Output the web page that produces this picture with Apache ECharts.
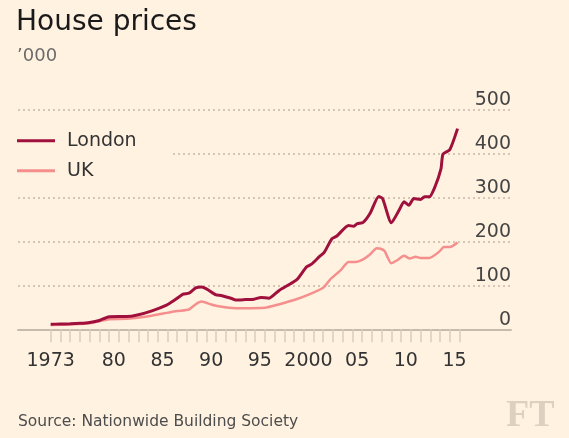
<!DOCTYPE html>
<html>
<head>
<meta charset="utf-8">
<script src="https://cdn.jsdelivr.net/npm/echarts@6/dist/echarts.min.js"></script>
<style>
  html, body { margin: 0; padding: 0; background: #fff2e1; }
  #chart { width: 569px; height: 438px; }
</style>
</head>
<body>
<div id="chart"></div>
<script>
// ---- Data (thousands of pounds) ----
const londonYears = [1973.0, 1974.0, 1975.0, 1976.0, 1977.0, 1978.0, 1978.9, 1980.0, 1980.8, 1981.9,
  1983.4, 1984.9, 1985.7, 1986.6, 1987.2, 1987.9, 1988.5, 1989.0, 1990.0, 1990.5,
  1991.6, 1992.0, 1993.0, 1993.9, 1994.6, 1995.4, 1996.5, 1997.6, 1998.3, 1999.3,
  1999.8, 2000.6, 2001.1, 2001.9, 2002.4, 2003.6, 2004.1, 2004.5, 2005.1, 2005.8,
  2006.7, 2007.1, 2008.0, 2008.8, 2009.3, 2009.8, 2010.3, 2011.0, 2011.4, 2011.9,
  2012.5, 2013.1, 2013.3, 2014.0, 2014.8];
const londonValues = [11.5, 12, 12.5, 13.5, 15.5, 20, 28, 29, 29, 32.5,
  42, 55, 66, 80, 82, 94, 96, 92, 78, 77,
  70, 66.5, 67.5, 68.5, 72.5, 70.5, 89, 103, 113, 142,
  148, 165, 175, 206, 212, 236, 234, 240, 243, 263,
  302, 297, 242, 271, 290, 282, 297, 295, 301, 301,
  325, 365, 398, 408, 456];

const ukYears = [1973.0, 1975.0, 1977.0, 1979.0, 1980.8, 1982.7, 1984.6, 1986.0, 1987.2, 1987.9,
  1988.5, 1989.4, 1990.1, 1992.0, 1995.0, 1996.5, 1998.0, 1999.5, 2001.0, 2001.7,
  2002.8, 2003.6, 2004.3, 2005.1, 2005.8, 2006.5, 2006.9, 2007.3, 2008.0, 2008.6,
  2009.3, 2009.9, 2010.5, 2011.0, 2011.9, 2012.9, 2013.4, 2014.0, 2014.8];
const ukValues = [9.5, 11, 13.6, 23, 24, 28.5, 36, 41.5, 45, 57,
  63, 57, 53, 48, 49, 57, 66.5, 79, 94.5, 113,
  134.6, 153, 153, 159, 170, 184, 183, 178, 150, 157,
  167, 161, 165, 162, 162, 176, 187, 187, 197];

const tickYears = [];
for (let y = 1973; y <= 2015; y++) tickYears.push(y);
const labelYears = [1973, 1980, 1985, 1990, 1995, 2000, 2005, 2010, 2015];
const yTicks = [0, 100, 200, 300, 400, 500];

const FONT = '"DejaVu Sans", sans-serif';
const BG = '#fff2e1';

function zip(xs, ys) { return xs.map((x, i) => [x, ys[i]]); }

const chart = echarts.init(document.getElementById('chart'), null, { renderer: 'canvas' });
chart.setOption({
  backgroundColor: BG,
  animation: false,
  grid: { left: 18, right: 58, top: 109.3, bottom: 108.7 },
  legend: {
    orient: 'vertical',
    left: 17,
    top: 130.7,
    padding: [0, 34, 0, 0],
    itemWidth: 38,
    itemHeight: 3,
    itemGap: 10,
    icon: 'rect',
    backgroundColor: BG,
    textStyle: { fontFamily: FONT, fontSize: 19, lineHeight: 20, color: '#333333', padding: [0, 0, 0, 7] },
    data: ['London', 'UK']
  },
  xAxis: {
    type: 'value',
    min: 1969.64,
    max: 2020.29,
    splitLine: { show: false },
    axisLine: { show: true, onZero: false, lineStyle: { color: '#c4bdae', width: 2 } },
    axisTick: { show: true, customValues: tickYears, length: 13, lineStyle: { color: '#d9cdbf', width: 1.5 } },
    axisLabel: {
      customValues: labelYears,
      margin: 22,
      fontFamily: FONT,
      fontSize: 19,
      color: '#333333',
      formatter: function (v) {
        if (v === 1973) return '{a|1973}';
        if (v === 2000) return '{b|2000}';
        return '{b|' + String(v % 100).padStart(2, '0') + '}';
      },
      rich: {
        a: { fontFamily: FONT, fontSize: 19, color: '#333333' },
        b: { fontFamily: FONT, fontSize: 19, color: '#333333', padding: [0, 10, 0, 0] }
      }
    }
  },
  yAxis: {
    type: 'value',
    position: 'right',
    min: yTicks[0],
    max: yTicks[yTicks.length - 1],
    interval: 100,
    axisLine: { show: false },
    axisTick: { show: false },
    splitLine: { show: true, lineStyle: { color: '#c9b8a6', width: 1.5, type: [2, 3] } },
    axisLabel: {
      inside: true,
      margin: 0,
      align: 'right',
      verticalAlign: 'bottom',
      fontFamily: FONT,
      fontSize: 19,
      color: '#444444'
    }
  },
  series: [
    {
      name: 'London',
      type: 'line',
      data: zip(londonYears, londonValues),
      showSymbol: false,
      smooth: 0.2,
      color: '#a0103d',
      lineStyle: { color: '#a0103d', width: 3 },
      z: 3
    },
    {
      name: 'UK',
      type: 'line',
      data: zip(ukYears, ukValues),
      showSymbol: false,
      smooth: 0.2,
      color: '#f58f8d',
      lineStyle: { color: '#f58f8d', width: 2.5 },
      z: 2
    }
  ],
  graphic: [
    { type: 'text', style: { text: 'House prices', x: 16, y: 23, font: '28px ' + FONT, fill: '#1a1a1a', verticalAlign: 'middle' } },
    { type: 'text', style: { text: '\u2019000', x: 17, y: 56.5, font: '18px ' + FONT, fill: '#6b6b6b', verticalAlign: 'middle' } },
    { type: 'text', style: { text: 'Source: Nationwide Building Society', x: 18, y: 422, font: '15.5px ' + FONT, fill: '#4d4d4d', verticalAlign: 'middle' } },
    { type: 'text', style: { text: 'FT', x: 506, y: 416, font: 'bold 38px "Liberation Serif", serif', fill: '#ddd0c1', verticalAlign: 'middle' } }
  ]
});
</script>
</body>
</html>
